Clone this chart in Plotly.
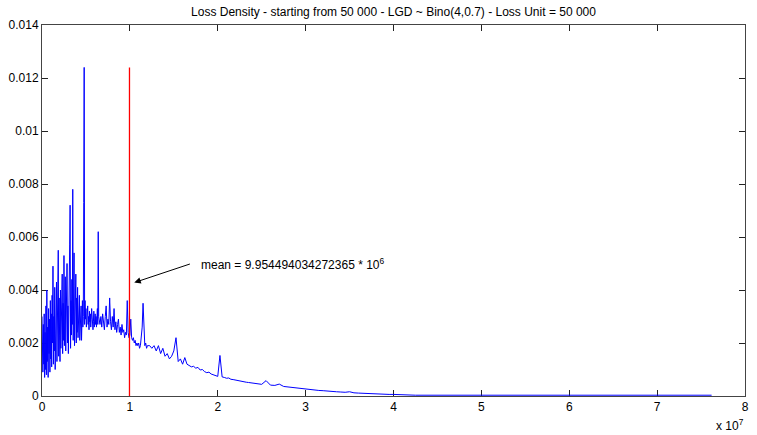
import plotly.graph_objects as go

LOSS_SCALE = 1e6  # x values below are in millions of loss

# Segment A: 0.00 .. 6.50 (step 0.05 million = one loss unit of 50 000)
seg_a_start, seg_a_step = 0.0, 0.05
seg_a_density = [
    0.0030, 0.0022, 0.0009, 0.0027, 0.0012, 0.0031, 0.0007, 0.0024, 0.0010, 0.0034,
    0.0008, 0.0040, 0.0013, 0.0026, 0.0007, 0.0033, 0.0016, 0.0029, 0.0009, 0.0036,
    0.0014, 0.0031, 0.0011, 0.0038, 0.0020, 0.0049, 0.0012, 0.0030, 0.0017, 0.0041,
    0.0010, 0.0034, 0.0022, 0.0043, 0.0013, 0.0029, 0.0019, 0.0055, 0.0015, 0.0037,
    0.0023, 0.0013, 0.0040, 0.0018, 0.0033, 0.0026, 0.0046, 0.0016, 0.0035, 0.0021,
    0.0053, 0.0019, 0.0030, 0.0045, 0.0017, 0.0038, 0.0024, 0.0050, 0.0020, 0.0034,
    0.0016, 0.0041, 0.0026, 0.0057, 0.0072, 0.0018, 0.0036, 0.0023, 0.0044, 0.0027,
    0.0078, 0.0021, 0.0039, 0.0054, 0.0019, 0.0035, 0.0028, 0.0046, 0.0020, 0.0037,
    0.0024, 0.0041, 0.0022, 0.0033, 0.0027, 0.0038, 0.0021, 0.0030, 0.0025, 0.0034,
    0.0021, 0.0029, 0.0036, 0.0026, 0.0030, 0.0073, 0.0124, 0.0027, 0.0036, 0.0029,
    0.0033, 0.0026, 0.0031, 0.0028, 0.0034, 0.0027, 0.0030, 0.0025, 0.0032, 0.0028,
    0.0031, 0.0026, 0.0029, 0.0033, 0.0027, 0.0030, 0.0025, 0.0028, 0.0032, 0.0026,
    0.0029, 0.0031, 0.0027, 0.0030, 0.0026, 0.0029, 0.0033, 0.0027, 0.0062, 0.0030,
    0.0028,
]

# Segment B: 6.6 .. 12.0 (step 0.1 million)
seg_b_start, seg_b_step = 6.6, 0.1
seg_b_density = [
    0.0027, 0.0030, 0.0026, 0.0031, 0.0028, 0.0025, 0.0030, 0.0034, 0.0026, 0.0029,
    0.0027, 0.0037, 0.0028, 0.0025, 0.0030, 0.0026, 0.0033, 0.0025, 0.0028, 0.0024,
    0.0027, 0.0029, 0.0024, 0.0026, 0.0023, 0.0027, 0.0024, 0.0025, 0.0022, 0.0024,
    0.0023, 0.0036, 0.0024, 0.0022, 0.0023, 0.0029, 0.0022, 0.0021, 0.0022, 0.0020,
    0.0021, 0.0019, 0.0020, 0.0019, 0.0020, 0.0018, 0.0019, 0.0022, 0.0026, 0.0035,
    0.0021, 0.0019, 0.0020, 0.0018, 0.0019,
]

# Segment C: 12.25 .. 25.0 (step 0.25 million)
seg_c_start, seg_c_step = 12.25, 0.25
seg_c_density = [
    0.0019, 0.0018, 0.0019, 0.0017, 0.0019, 0.0016, 0.0018, 0.0015, 0.0016, 0.0014,
    0.0015, 0.0017, 0.0022, 0.0013, 0.0014, 0.0012, 0.00145, 0.0012, 0.00115, 0.0011,
    0.00112, 0.00105, 0.00108, 0.00098, 0.0010, 0.00092, 0.00088, 0.0009, 0.00083, 0.0008,
    0.00076, 0.00074, 0.00153, 0.00072, 0.0007, 0.00067, 0.00068, 0.00063, 0.00062, 0.0006,
    0.00058, 0.00057, 0.00055, 0.00054, 0.00052, 0.00051, 0.0005, 0.00048, 0.00047, 0.00046,
    0.00045, 0.00044,
]

# Segment D: 25.5 .. 42.0 (step 0.5 million)
seg_d_start, seg_d_step = 25.5, 0.5
seg_d_density = [
    0.00058, 0.00041, 0.0004, 0.00045, 0.00036, 0.00034, 0.00031, 0.0003, 0.00028, 0.00026,
    0.00025, 0.00023, 0.00021, 0.0002, 0.00018, 0.00017, 0.00016, 0.00015, 0.00014, 0.00016,
    0.00012, 0.00011, 0.0001, 0.00009, 0.00009, 0.00008, 0.00008, 0.00007, 0.00006, 0.00006,
    0.00005, 0.00005, 0.00004, 0.00004,
]

# Tail (irregular points, millions)
tail_loss = [42.5, 50.0, 60.0, 70.0, 76.2]
tail_density = [0.00003, 0.00003, 0.00003, 0.00003, 0.00003]

mean_loss = 9.954494034272365e6
mean_top = 0.0124

x_ticks = [0, 1, 2, 3, 4, 5, 6, 7, 8]
y_ticks = [0, 0.002, 0.004, 0.006, 0.008, 0.01, 0.012, 0.014]
y_tick_labels = ["0", "0.002", "0.004", "0.006", "0.008", "0.01", "0.012", "0.014"]

title_text = "Loss Density - starting from 50 000 - LGD ~ Bino(4,0.7) - Loss Unit = 50 000"
mean_text = "mean = 9.954494034272365 * 10<sup>6</sup>"

# Build full series
loss, dens = [], []
for start, step, vals in [(seg_a_start, seg_a_step, seg_a_density),
                          (seg_b_start, seg_b_step, seg_b_density),
                          (seg_c_start, seg_c_step, seg_c_density),
                          (seg_d_start, seg_d_step, seg_d_density)]:
    for i, v in enumerate(vals):
        loss.append((start + i * step) * LOSS_SCALE)
        dens.append(v)
for xv, v in zip(tail_loss, tail_density):
    loss.append(xv * LOSS_SCALE)
    dens.append(v)

FONT = "Liberation Sans, Arial, sans-serif"

fig = go.Figure()
fig.add_trace(go.Scatter(x=loss, y=dens, mode="lines",
                         line=dict(color="#0000FF", width=1), hoverinfo="skip"))
fig.add_trace(go.Scatter(x=[mean_loss, mean_loss], y=[0, mean_top], mode="lines",
                         line=dict(color="rgb(255,0,0)", width=1.3), hoverinfo="skip"))

axis_common = dict(showgrid=False, zeroline=False, showline=True, linecolor="#444444",
                   linewidth=1, mirror="allticks", ticks="inside", ticklen=6,
                   tickcolor="#222222", layer="below traces",
                   tickfont=dict(family=FONT, size=12, color="#000000"))

fig.update_xaxes(range=[0, 8e7], tickvals=[t * 1e7 for t in x_ticks],
                 ticktext=[str(t) for t in x_ticks], **axis_common)
fig.update_yaxes(range=[0, 0.014], tickvals=y_ticks, ticktext=y_tick_labels, **axis_common)

fig.add_annotation(x=1.05e7, y=0.00428, ax=1.70e7, ay=0.00500, xref="x", yref="y",
                   axref="x", ayref="y", text="", showarrow=True, arrowhead=2,
                   arrowsize=1.3, arrowwidth=1, arrowcolor="#000000")
fig.add_annotation(x=1.79e7, y=0.00499, xref="x", yref="y", text=mean_text,
                   showarrow=False, xanchor="left", yanchor="middle",
                   font=dict(family=FONT, size=12, color="#000000"))
fig.add_annotation(x=1.0015, y=-0.077, xref="paper", yref="paper", text="x 10<sup>7</sup>",
                   showarrow=False, xanchor="right", yanchor="middle",
                   font=dict(family=FONT, size=12, color="#000000"))

fig.update_layout(
    width=757, height=435,
    margin=dict(l=42, r=8, t=25, b=39),
    paper_bgcolor="white", plot_bgcolor="white",
    showlegend=False,
    title=dict(text=title_text, x=0.5, xref="paper", xanchor="center",
               y=1 - 12 / 435, yref="container", yanchor="middle",
               font=dict(family=FONT, size=12, color="#000000")),
)

fig.write_html("out.html", config={"displayModeBar": False})
